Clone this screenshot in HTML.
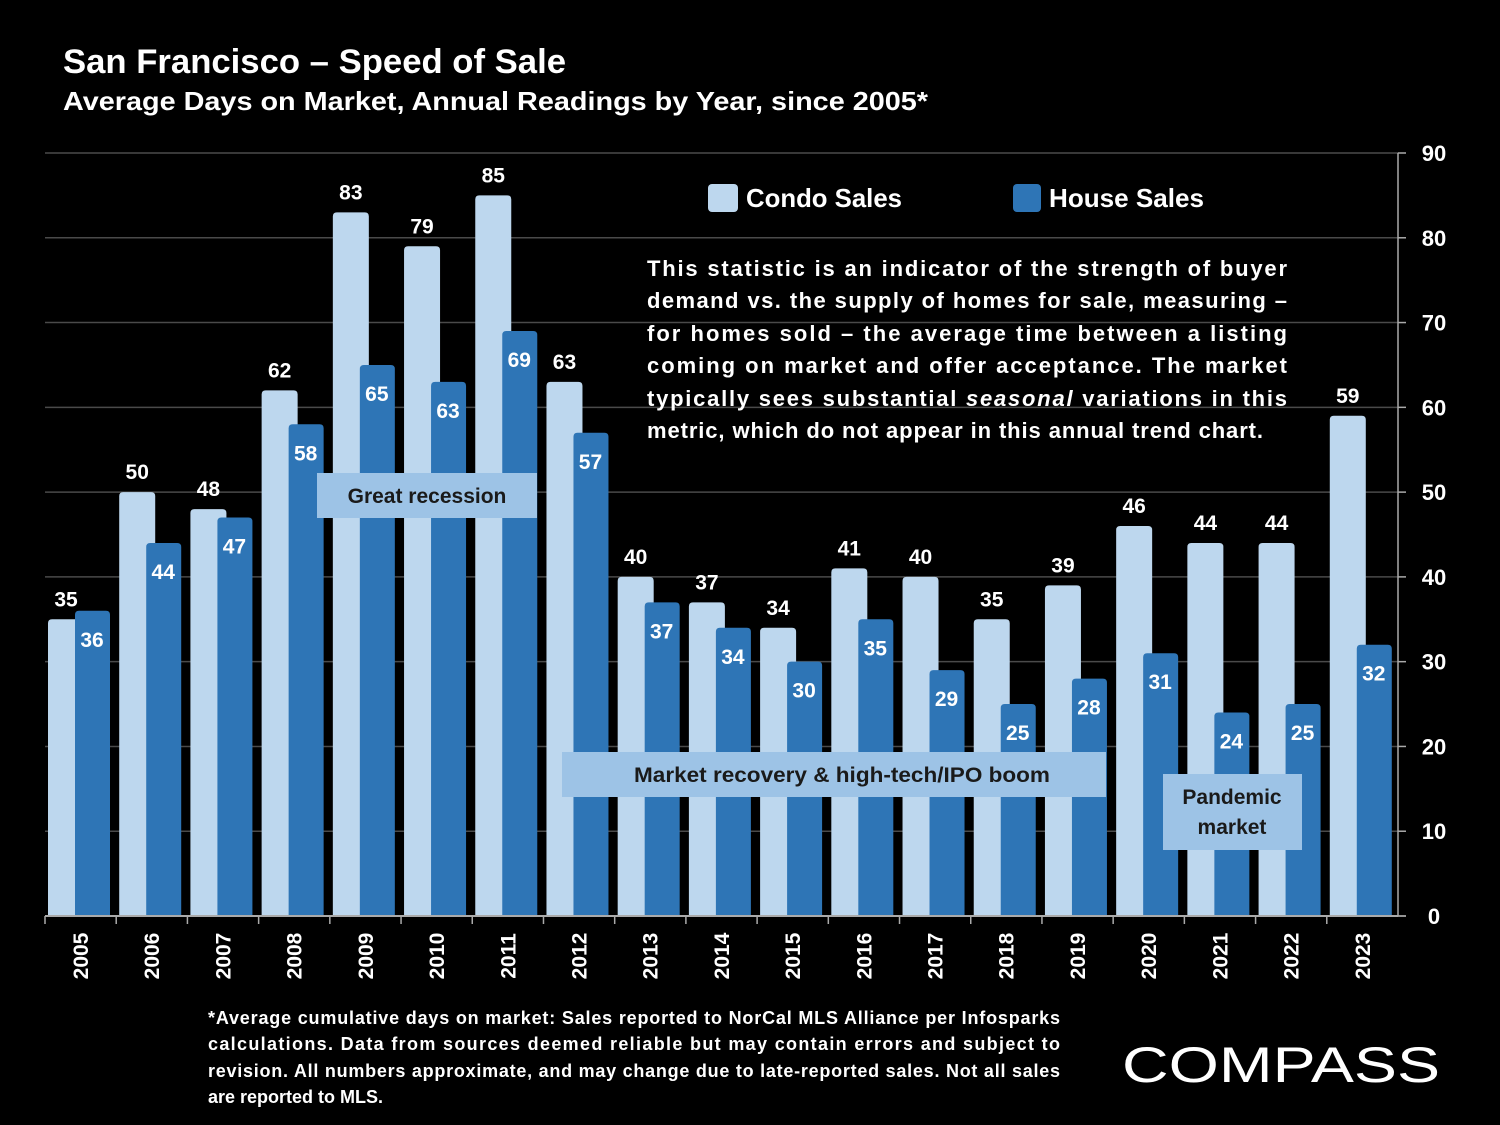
<!DOCTYPE html>
<html><head><meta charset="utf-8"><style>
html,body{margin:0;padding:0;background:#000;}
svg{display:block;font-family:"Liberation Sans",sans-serif;font-weight:bold;}
</style></head><body>
<svg id="c" width="1500" height="1125" viewBox="0 0 1500 1125">
<rect width="1500" height="1125" fill="#000"/>
<text x="63" y="73" fill="#fff" font-size="34" textLength="503" lengthAdjust="spacingAndGlyphs">San Francisco – Speed of Sale</text>
<text x="63" y="110" fill="#fff" font-size="26" textLength="865" lengthAdjust="spacingAndGlyphs">Average Days on Market, Annual Readings by Year, since 2005*</text>
<g id="grid"></g>
<g id="bars"></g>
<g id="axes"></g>
<g>
<rect x="708" y="184" width="30" height="28" rx="4" fill="#bdd7ee"/>
<text x="746" y="207" fill="#fff" font-size="26" textLength="156" lengthAdjust="spacingAndGlyphs">Condo Sales</text>
<rect x="1013" y="184" width="28" height="28" rx="4" fill="#2e75b6"/>
<text x="1049" y="207" fill="#fff" font-size="26" textLength="155" lengthAdjust="spacingAndGlyphs">House Sales</text>
</g>
<g fill="#fff" font-size="22">
<text x="647" y="276" textLength="640" lengthAdjust="spacing">This statistic is an indicator of the strength of buyer</text>
<text x="647" y="308" textLength="640" lengthAdjust="spacing">demand vs. the supply of homes for sale, measuring –</text>
<text x="647" y="341" textLength="640" lengthAdjust="spacing">for homes sold – the average time between a listing</text>
<text x="647" y="373" textLength="640" lengthAdjust="spacing">coming on market and offer acceptance. The market</text>
<text x="647" y="406" textLength="640" lengthAdjust="spacing">typically sees substantial <tspan font-style="italic">seasonal</tspan> variations in this</text>
<text x="647" y="438" textLength="616" lengthAdjust="spacing">metric, which do not appear in this annual trend chart.</text>
</g>
<g>
<rect x="317" y="473" width="220" height="45" fill="#9dc3e6"/>
<text x="427" y="503" text-anchor="middle" font-size="21" fill="#1a1a1a">Great recession</text>
</g>
<g>
<rect x="562" y="752" width="544" height="45" fill="#9dc3e6"/>
<text x="842" y="782" text-anchor="middle" font-size="21" fill="#1a1a1a" textLength="416" lengthAdjust="spacingAndGlyphs">Market recovery &amp;  high-tech/IPO boom</text>
</g>
<g>
<rect x="1163" y="774" width="139" height="76" fill="#9dc3e6"/>
<text x="1232" y="804" text-anchor="middle" font-size="21" fill="#1a1a1a">Pandemic</text>
<text x="1232" y="834" text-anchor="middle" font-size="21" fill="#1a1a1a">market</text>
</g>
<g fill="#fff" font-size="18">
<text x="208" y="1024" textLength="852" lengthAdjust="spacing">*Average cumulative days on market: Sales reported to NorCal MLS Alliance per Infosparks</text>
<text x="208" y="1050" textLength="852" lengthAdjust="spacing">calculations. Data from sources deemed reliable but may contain errors and subject to</text>
<text x="208" y="1077" textLength="852" lengthAdjust="spacing">revision. All numbers approximate, and may change due to late-reported sales. Not all sales</text>
<text x="208" y="1103">are reported to MLS.</text>
</g>
<text x="1122" y="1082" fill="#fff" font-size="50" font-weight="normal" textLength="318" lengthAdjust="spacingAndGlyphs">COMPASS</text>
</svg>
<script>
const years = ["2005","2006","2007","2008","2009","2010","2011","2012","2013","2014","2015","2016","2017","2018","2019","2020","2021","2022","2023"];
const condoValues = [35,50,48,62,83,79,85,63,40,37,34,41,40,35,39,46,44,44,59];
const houseValues = [36,44,47,58,65,63,69,57,37,34,30,35,29,25,28,31,24,25,32];
const yTicks = [0,10,20,30,40,50,60,70,80,90];

const NS="http://www.w3.org/2000/svg";
const left=45,right=1398,y0=916,y90=153,yMax=90;
const gw=(right-left)/years.length;
const yScale=v=>y0-(v/yMax)*(y0-y90);
const xGroup=i=>left+i*gw;
function mk(tag,attrs,parent){const e=document.createElementNS(NS,tag);for(const k in attrs)e.setAttribute(k,attrs[k]);parent.appendChild(e);return e;}
const grid=document.getElementById('grid'),bars=document.getElementById('bars'),axes=document.getElementById('axes');

yTicks.forEach(t=>{
  const y=yScale(t);
  if(t>0){const l=mk('line',{x1:left,x2:right,y1:y,y2:y,stroke:'#4a4a4a','stroke-width':1.5},grid);
  
  }
  const tk=mk('line',{x1:right,x2:right+8,y1:y,y2:y,stroke:'#aaa','stroke-width':1.5},axes);
  
  
  const tx=mk('text',{x:1434,y:y+8,'text-anchor':'middle',fill:'#fff','font-size':22},axes);
  tx.textContent=t;
  
  
});
const ax=mk('line',{x1:right,x2:right,y1:y90,y2:y0,stroke:'#aaa','stroke-width':1.5},axes);


const bx=mk('line',{x1:left,x2:right,y1:y0,y2:y0,stroke:'#aaa','stroke-width':2},axes);



years.forEach((yr,i)=>{
  const gx=xGroup(i);
  const tk=mk('line',{x1:gx,x2:gx,y1:y0,y2:y0+8,stroke:'#aaa','stroke-width':1.5},axes);
  
  
  const cy=yScale(condoValues[i]);
  const c=mk('path',{d:`M${gx+3},${y0}V${cy+4}Q${gx+3},${cy} ${gx+7},${cy}H${gx+35}Q${gx+39},${cy} ${gx+39},${cy+4}V${y0}Z`,fill:'#bdd7ee'},bars);
  
  
  const hy=yScale(houseValues[i]);
  const h=mk('path',{d:`M${gx+30},${y0}V${hy+4}Q${gx+30},${hy} ${gx+34},${hy}H${gx+61}Q${gx+65},${hy} ${gx+65},${hy+4}V${y0}Z`,fill:'#2e75b6'},bars);
  
  
  const cl=mk('text',{x:gx+21,y:cy-13,'text-anchor':'middle',fill:'#fff','font-size':21},bars);
  cl.textContent=condoValues[i];
  
  
  const hl=mk('text',{x:gx+47,y:hy+36,'text-anchor':'middle',fill:'#fff','font-size':21},bars);
  hl.textContent=houseValues[i];
  
  
  const xl=mk('text',{x:0,y:0,'text-anchor':'middle',fill:'#fff','font-size':21,transform:`translate(${gx+43},956) rotate(-90)`},axes);
  xl.textContent=yr;
  
  
});
const lt=mk('line',{x1:right,x2:right+8,y1:y0,y2:y0,stroke:'#aaa','stroke-width':1.5},axes);


</script>
</body></html>
